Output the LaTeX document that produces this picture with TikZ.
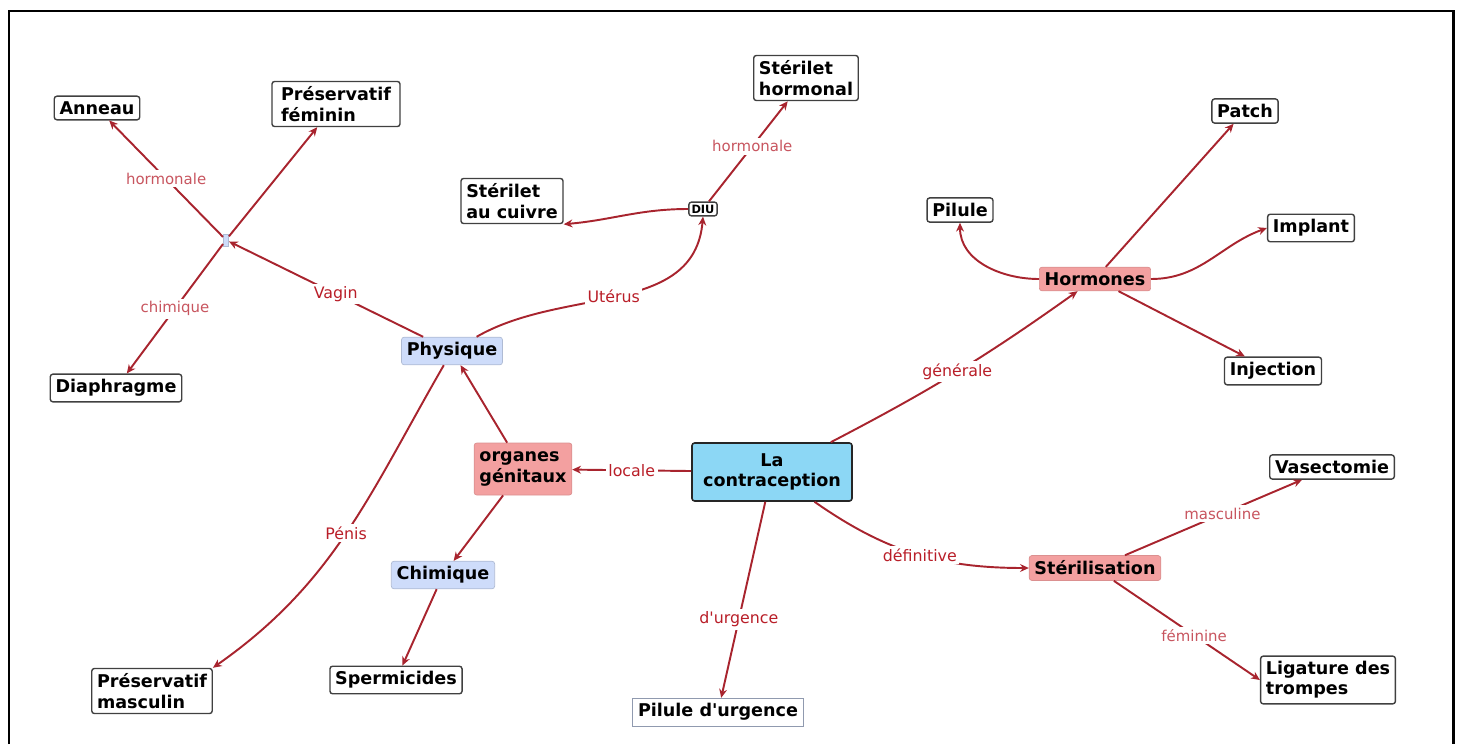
\documentclass[tikz,border=0pt]{standalone}
\usepackage{fontspec}
\setmainfont{DejaVu Sans}
\usetikzlibrary{arrows.meta}

\definecolor{linkred}{RGB}{168,36,46}
\definecolor{lbldark}{RGB}{185,30,40}
\definecolor{lblpale}{RGB}{200,85,95}
\definecolor{pinkfill}{RGB}{243,160,160}
\definecolor{bluefill}{RGB}{140,215,245}
\definecolor{lavfill}{RGB}{206,220,250}

\tikzset{
  leaf/.style={shape=rectangle, draw=black!75, line width=0.8pt, rounded corners=1.5pt,
    fill=white, inner sep=3pt, align=left, font=\fontsize{10}{11.5}\selectfont\bfseries},
  pinkbox/.style={leaf, draw=pinkfill!90!black, line width=0.4pt, fill=pinkfill},
  lavbox/.style={leaf, draw=lavfill!85!black, line width=0.4pt, fill=lavfill},
  conn/.style={-{Stealth[length=5pt,width=4.5pt]}, line width=1.1pt, draw=linkred},
  lbl/.style={fill=white, inner sep=1.5pt, text=lbldark, font=\fontsize{9}{10}\selectfont},
  lblp/.style={lbl, text=lblpale, font=\fontsize{8.5}{10}\selectfont}
}

\begin{document}
\begin{tikzpicture}[x=0.2mm, y=-0.2mm]
\useasboundingbox (0,0) rectangle (1461,744);
\draw[line width=1.7pt] (9,744) -- (9,11) -- (1453,11) -- (1453,744);

\node[leaf, draw=black!85, line width=0.9pt, fill=bluefill, align=center, minimum width=160*0.2mm, minimum height=58*0.2mm] (contra) at (772,472) {La\\contraception};
\node[pinkbox, minimum height=52*0.2mm] (org) at (523,469) {organes\\génitaux};
\node[pinkbox] (horm) at (1095,279) {Hormones};
\node[pinkbox] (steril) at (1095,568) {Stérilisation};
\node[lavbox] (phys) at (452,351) {Physique};
\node[lavbox] (chim) at (443,575) {Chimique};
\node[lavbox, minimum width=3pt, minimum height=7pt, inner sep=0pt, rounded corners=0pt] (jct) at (226,240) {};
\node[leaf, inner sep=1.5pt, font=\fontsize{6.5}{7}\selectfont\bfseries] (diu) at (703,209) {DIU};

\node[leaf] (anneau) at (97,108) {Anneau};
\node[leaf, minimum width=128*0.2mm] (pfem) at (336,104) {Préservatif\\féminin};
\node[leaf] (diaph) at (116,388) {Diaphragme};
\node[leaf] (pmasc) at (152,691) {Préservatif\\masculin};
\node[leaf] (sperm) at (396,680) {Spermicides};
\node[leaf] (cuivre) at (512,201) {Stérilet\\au cuivre};
\node[leaf] (sthorm) at (806,78) {Stérilet\\hormonal};
\node[leaf] (pilule) at (960,210) {Pilule};
\node[leaf] (patch) at (1245,111) {Patch};
\node[leaf] (implant) at (1311,228) {Implant};
\node[leaf] (inject) at (1273,371) {Injection};
\node[leaf] (vasect) at (1332,467) {Vasectomie};
\node[leaf] (ligat) at (1328,680) {Ligature des\\trompes};
\node[leaf, draw=lavfill!70!black, line width=0.4pt, rounded corners=0pt] (purg) at (718,712) {Pilule d\textquotesingle urgence};

% centre
\path (contra) edge[conn] node[lbl] {locale} (org);
\path (contra) edge[conn, bend right=4] node[lbl] {générale} (horm);
\path (contra) edge[conn, out=-35, in=180] node[lbl, pos=0.52] {définitive} (steril);
\path (contra) edge[conn] node[lbl, pos=0.6] {d\textquotesingle urgence} (purg);

% organes genitaux
\path (org) edge[conn] (phys);
\path (org) edge[conn] (chim);
\path (chim) edge[conn] (sperm);
\path (phys) edge[conn] node[lbl, pos=0.45] {Vagin} (jct);
\path (phys) edge[conn, out=30, in=-95] node[lbl, pos=0.48] {Utérus} (diu.south);
\path (phys) edge[conn, out=-120, in=35] node[lbl, pos=0.5] {Pénis} (pmasc.north east);
\path (jct) edge[conn] node[lblp] {hormonale} (anneau);
\path (jct) edge[conn] (pfem);
\path (jct) edge[conn] node[lblp, pos=0.5] {chimique} (diaph);
\path (diu) edge[conn, out=180, in=5] (cuivre.south east);
\path (diu) edge[conn] node[lblp, pos=0.55] {hormonale} (sthorm);

% hormones
\path (horm.west) edge[conn, out=180, in=-90] (pilule.south);
\path (horm) edge[conn] (patch);
\path (horm.east) edge[conn, out=0, in=200] (implant.west);
\path (horm) edge[conn] (inject);

% sterilisation
\path (steril) edge[conn] node[lblp, pos=0.55] {masculine} (vasect);
\path (steril) edge[conn] node[lblp, pos=0.55] {féminine} (ligat.west);
\end{tikzpicture}
\end{document}
